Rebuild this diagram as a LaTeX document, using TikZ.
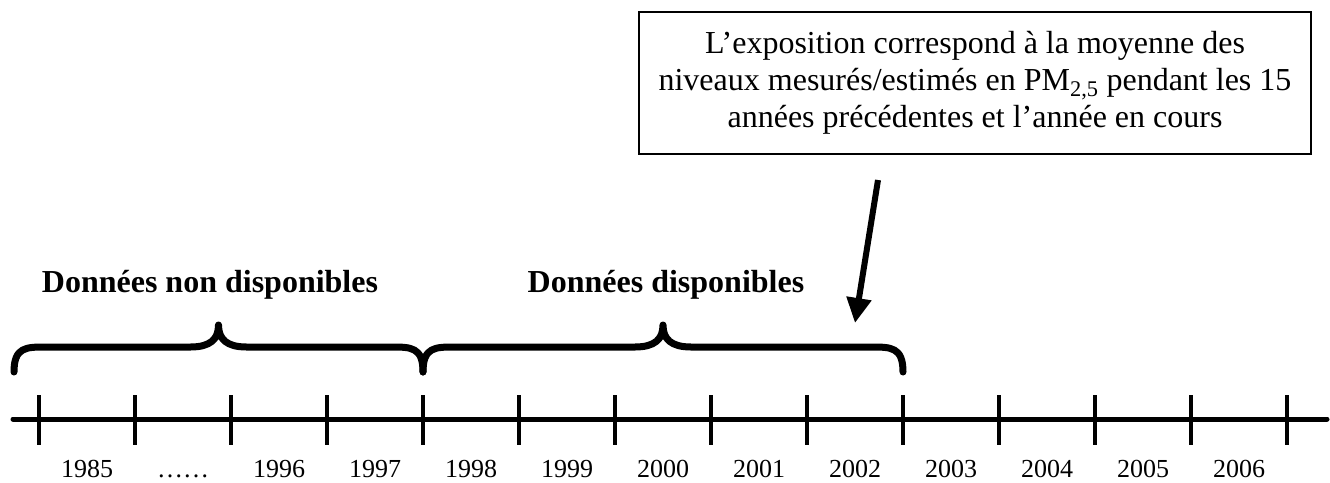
\documentclass[tikz,border=0pt]{standalone}
\usepackage{fontspec}
\setmainfont{Liberation Serif}
\usetikzlibrary{arrows.meta,calc}
\begin{document}
\begin{tikzpicture}[x=1pt,y=-1pt,
  yearlabel/.style={anchor=base, font=\fontsize{26}{30}\selectfont, inner sep=0pt},
  grouplabel/.style={anchor=base, font=\fontsize{32}{37}\selectfont\bfseries, inner sep=0pt},
  axisline/.style={line width=5pt, line cap=round},
  tickmark/.style={line width=4pt},
  bracepath/.style={line width=7pt, line cap=round, line join=round},
  notebox/.style={draw, line width=2pt, align=center, minimum width=672pt, minimum height=142pt, font=\fontsize{32}{37}\selectfont, inner sep=0pt},
  pointer/.style={line width=6pt, -{Triangle[length=25pt,width=24pt]}}]
\useasboundingbox (0,0) rectangle (1330,482);

% axis
\coordinate (axL) at (13,419);
\coordinate (axR) at (1327,419);
\draw[axisline] (axL) -- (axR);

% ticks
\foreach \k in {0,...,13}{
  \coordinate (t\k a) at ({39+96*\k},395);
  \coordinate (t\k b) at ({39+96*\k},445);
  \draw[tickmark] (t\k a) -- (t\k b);
}

% year labels
\foreach \lab [count=\i from 0] in {1985,……,1996,1997,1998,1999,2000,2001,2002,2003,2004,2005,2006}{
  \node[yearlabel] (y\i) at ({87+96*\i},477) {\lab};
}

% braces
\coordinate (b1l) at (14,372);
\coordinate (b1m) at (218.5,325);
\coordinate (b1r) at (423,372);
\coordinate (b2l) at (423,372);
\coordinate (b2m) at (663,325);
\coordinate (b2r) at (903,372);
\draw[bracepath] (b1l) .. controls ++(0,-25) and ++(-20,0) .. ++(32,-25)
  -- ($(b1m)+(-28,22)$) .. controls ++(20,0) and ++(0,14) .. (b1m)
  .. controls ++(0,14) and ++(-20,0) .. ($(b1m)+(28,22)$)
  -- ($(b1r)+(-32,-25)$) .. controls ++(20,0) and ++(0,-25) .. (b1r);
\draw[bracepath] (b2l) .. controls ++(0,-25) and ++(-20,0) .. ++(32,-25)
  -- ($(b2m)+(-28,22)$) .. controls ++(20,0) and ++(0,14) .. (b2m)
  .. controls ++(0,14) and ++(-20,0) .. ($(b2m)+(28,22)$)
  -- ($(b2r)+(-32,-25)$) .. controls ++(20,0) and ++(0,-25) .. (b2r);

% group labels
\node[grouplabel] (nd) at (210,292) {Données non disponibles};
\node[grouplabel] (dd) at (666,292) {Données disponibles};

% note box
\node[notebox] (box) at (975,83) {L’exposition correspond à la moyenne des\\niveaux mesurés/estimés en PM\textsubscript{2,5} pendant les 15\\années précédentes et l’année en cours};

% arrow
\coordinate (atail) at (878,180);
\coordinate (atip) at (855,323);
\draw[pointer] (atail) -- (atip);
\end{tikzpicture}
\end{document}
